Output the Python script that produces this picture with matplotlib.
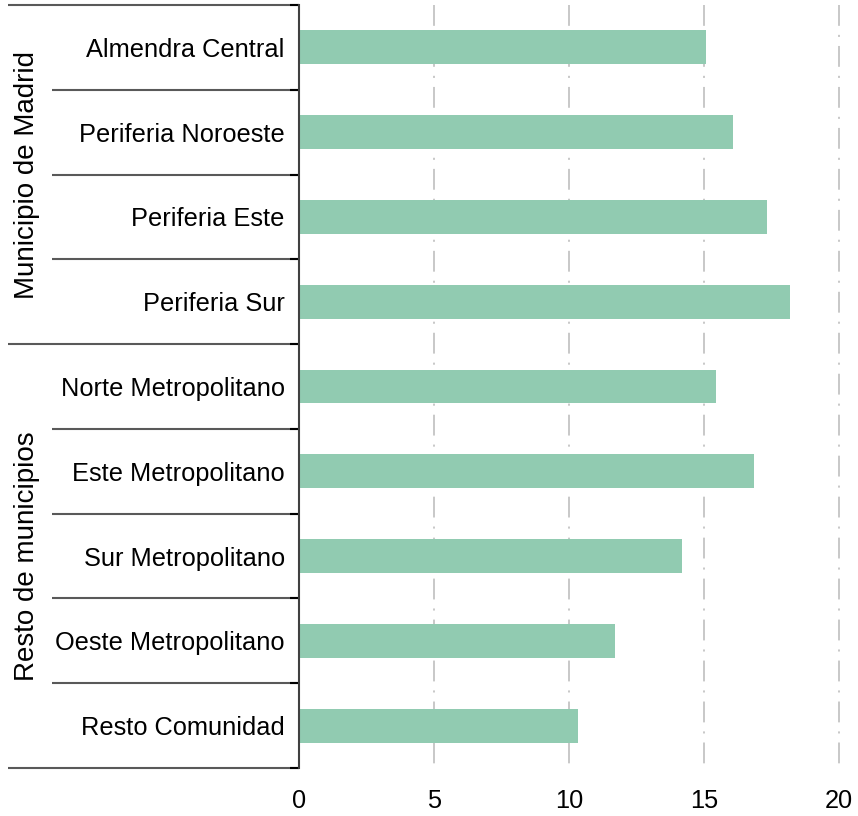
import matplotlib.pyplot as plt
import numpy as np

plt.rcParams['font.family'] = ['Liberation Sans', 'DejaVu Sans']
plt.rcParams['lines.scale_dashes'] = False

categories = ['Almendra Central', 'Periferia Noroeste', 'Periferia Este', 'Periferia Sur',
              'Norte Metropolitano', 'Este Metropolitano', 'Sur Metropolitano',
              'Oeste Metropolitano', 'Resto Comunidad']
values = [15.07, 16.08, 17.33, 18.19, 15.44, 16.85, 14.18, 11.72, 10.33]
groups = ['Municipio de Madrid', 'Resto de municipios']
group_sizes = [4, 5]
xticks = [0, 5, 10, 15, 20]

bar_color = '#91cbb1'
line_color = '#595959'

fig = plt.figure(figsize=(8.58, 8.16), dpi=100)
ax = fig.add_axes([0.348, 0.0588, 0.630, 0.9351])

y = np.arange(len(categories))
n = len(categories)

# gridlines, drawn from the top down so the dash pattern starts like the original
for xv in xticks[1:]:
    ax.plot([xv, xv], [-0.5, n - 0.5], color='#c8c8c8', lw=1.4,
            dashes=(15, 6.5, 1.5, 6.5), zorder=1, clip_on=False)

ax.barh(y, values, height=0.4, color=bar_color, zorder=2)

ax.set_xlim(0, 20)
ax.set_ylim(n - 0.5, -0.5)
ax.set_xticks(xticks)
ax.set_xticklabels([str(v) for v in xticks], fontsize=18.3)
ax.set_yticks(y)
ax.set_yticklabels(categories, fontsize=18.3)
ax.tick_params(axis='y', length=0, pad=10)
ax.tick_params(axis='x', length=0, pad=15)

for side in ['top', 'right', 'bottom']:
    ax.spines[side].set_visible(False)
ax.spines['left'].set_color('#404040')
ax.spines['left'].set_linewidth(1.5)

# multi-level category separators
trans = ax.get_yaxis_transform()
boundaries = np.arange(n + 1) - 0.5
group_edges = np.concatenate([[0], np.cumsum(group_sizes)]) - 0.5
for b in boundaries:
    x0 = -0.5375 if np.isclose(group_edges, b).any() else -0.456
    ax.plot([x0, 0], [b, b], color=line_color, lw=1.5, transform=trans,
            clip_on=False, solid_capstyle='butt')
    ax.plot([-0.015, 0], [b, b], color='black', lw=1.5, transform=trans,
            clip_on=False, solid_capstyle='butt')

start = 0
for name, size in zip(groups, group_sizes):
    center = start + (size - 1) / 2
    ax.text(-0.503, center, name, rotation=90, ha='center', va='center',
            fontsize=20, transform=trans)
    start += size

fig.savefig('out.png', dpi=100)
